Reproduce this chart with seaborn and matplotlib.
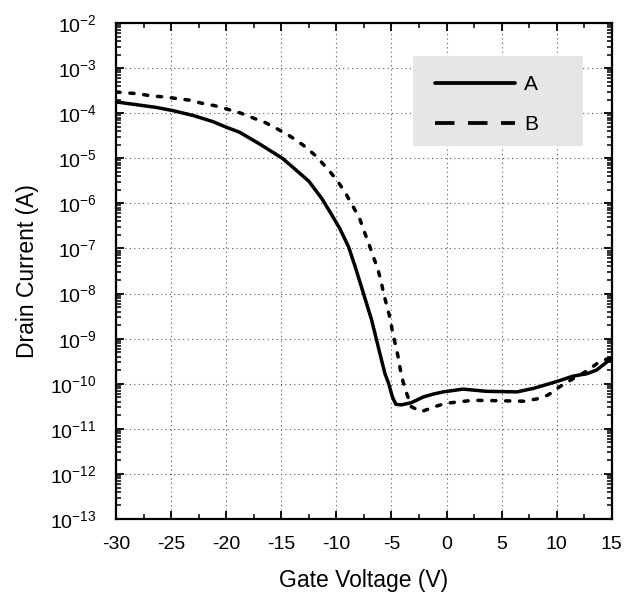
import numpy as np
import pandas as pd
import seaborn as sns
import matplotlib
matplotlib.use("Agg")
import matplotlib.pyplot as plt
from matplotlib.lines import Line2D
from matplotlib.patches import Rectangle
from matplotlib.ticker import LogLocator, MultipleLocator, NullFormatter

# Transfer curves of the two transistors (gate voltage in V, drain current in A)
gate_a = [-30, -28.2, -26.4, -24.9, -23.0, -21.2, -20.0, -18.8, -17.0, -14.9, -13.7,
          -12.5, -11.3, -10.6, -9.7, -8.9, -8.3, -7.55, -6.8, -6.2, -5.6, -5.25, -4.9,
          -4.6, -4.1, -3.2, -2.1, -1.2, -0.3, 1.5, 3.6, 6.4, 7.9, 10.0, 11.5, 12.7,
          13.6, 15]
drain_a = [1.78e-4, 1.55e-4, 1.35e-4, 1.15e-4, 8.9e-5, 6.5e-5, 4.9e-5, 3.8e-5, 2.1e-5,
           1.0e-5, 5.6e-6, 3.1e-6, 1.26e-6, 6.6e-7, 2.8e-7, 1.1e-7, 4.0e-8, 1.02e-8,
           2.6e-9, 6.6e-10, 1.7e-10, 1.0e-10, 5.0e-11, 3.5e-11, 3.4e-11, 3.8e-11,
           5.1e-11, 5.9e-11, 6.6e-11, 7.6e-11, 6.8e-11, 6.6e-11, 7.9e-11, 1.12e-10,
           1.48e-10, 1.66e-10, 2.0e-10, 3.7e-10]

gate_b = [-30, -28.0, -26.7, -25.6, -24.4, -23.35, -22.2, -21.1, -19.9, -18.75, -17.6,
          -16.45, -15.3, -14.2, -13.0, -11.9, -10.9, -9.95, -9.15, -8.55, -7.9, -7.45,
          -7.05, -6.65, -6.25, -5.95, -5.7, -5.4, -5.1, -4.9, -4.65, -4.4, -4.2, -3.95,
          -3.6, -3.2, -2.3, -0.9, 0.0, 2.4, 4.9, 7.0, 8.2, 9.2, 10.3, 11.5, 12.7, 13.9,
          14.8]
drain_b = [2.95e-4, 2.7e-4, 2.4e-4, 2.3e-4, 2.1e-4, 1.95e-4, 1.66e-4, 1.48e-4, 1.23e-4,
           1.02e-4, 7.9e-5, 6.2e-5, 4.4e-5, 3.1e-5, 1.95e-5, 1.15e-5, 6.2e-6, 3.3e-6,
           1.66e-6, 9.1e-7, 4.7e-7, 2.3e-7, 1.26e-7, 6.6e-8, 3.6e-8, 1.9e-8, 9.8e-9,
           5.1e-9, 2.7e-9, 1.38e-9, 7.6e-10, 4.0e-10, 2.1e-10, 1.12e-10, 5.9e-11,
           3.1e-11, 2.4e-11, 3.2e-11, 3.7e-11, 4.3e-11, 4.2e-11, 4.1e-11, 4.6e-11,
           5.6e-11, 8.7e-11, 1.3e-10, 1.9e-10, 3.1e-10, 3.7e-10]

labels = ["A", "B"]
x_ticks = [-30, -25, -20, -15, -10, -5, 0, 5, 10, 15]

df = pd.concat([
    pd.DataFrame({"Vg": gate_a, "Id": drain_a, "device": labels[0]}),
    pd.DataFrame({"Vg": gate_b, "Id": drain_b, "device": labels[1]}),
], ignore_index=True)

sns.set_theme(style="ticks")
plt.rcParams["font.family"] = ["Liberation Sans", "DejaVu Sans"]
plt.rcParams["mathtext.fontset"] = "custom"
plt.rcParams["mathtext.rm"] = "Liberation Sans"
plt.rcParams["mathtext.it"] = "Liberation Sans:italic"
plt.rcParams["mathtext.default"] = "regular"
plt.rcParams["text.color"] = "black"
plt.rcParams["axes.labelcolor"] = "black"

fig = plt.figure(figsize=(6.34, 5.95), dpi=100)
ax = fig.add_axes([0.183, 0.1277, 0.782, 0.8336])

sns.lineplot(data=df, x="Vg", y="Id", style="device",
             dashes={"A": "", "B": (1.2, 2.8)}, color="black",
             linewidth=2.5, estimator=None, sort=False, legend=False, ax=ax,
             zorder=3)
for ln in ax.get_lines():
    ln.set_dash_capstyle("round")
    ln.set_solid_capstyle("round")
    ln.set_solid_joinstyle("round")

ax.set_yscale("log")
ax.set_xlim(-30, 15)
ax.set_ylim(1e-13, 1e-2)
ax.set_xticks(x_ticks)
ax.set_xticklabels([str(t) for t in x_ticks])
ax.xaxis.set_minor_locator(MultipleLocator(2.5))
ax.yaxis.set_major_locator(LogLocator(base=10, numticks=20))
ax.yaxis.set_minor_locator(LogLocator(base=10, subs=np.arange(2, 10), numticks=20))
ax.yaxis.set_minor_formatter(NullFormatter())

ax.grid(True, which="major", linestyle=(0, (1, 3)), color="#555555", linewidth=0.8)
ax.tick_params(which="both", direction="in", top=True, right=True,
               labelsize=14, colors="black")
ax.tick_params(axis="x", which="major", pad=12)
ax.tick_params(axis="y", which="major", pad=14)
ax.tick_params(which="major", length=6, width=1.3)
ax.tick_params(which="minor", length=3.5, width=1.1)
for s in ax.spines.values():
    s.set_linewidth(1.6)
    s.set_color("black")

ax.set_xlabel("Gate Voltage (V)", fontsize=16.5, labelpad=12, color="black")
ax.set_ylabel("Drain Current (A)", fontsize=16.5, labelpad=8, color="black")

# Legend panel: gray box behind the grid, with line samples
ax.add_patch(Rectangle((0.598, 0.752), 0.344, 0.182, transform=ax.transAxes,
                       facecolor="#e6e6e6", edgecolor="none", zorder=1))
handles = [Line2D([], [], color="black", linewidth=2.7),
           Line2D([], [], color="black", linewidth=2.7, dashes=(5.2, 3.6))]
leg = ax.legend(handles, labels, loc="upper left", bbox_to_anchor=(0.626, 0.912),
                frameon=False, fontsize=15, handlelength=3.85, handletextpad=0.45,
                labelspacing=1.0, borderaxespad=0, borderpad=0.4)
for t in leg.get_texts():
    t.set_color("black")

fig.savefig("out.png", dpi=100, facecolor="white")
